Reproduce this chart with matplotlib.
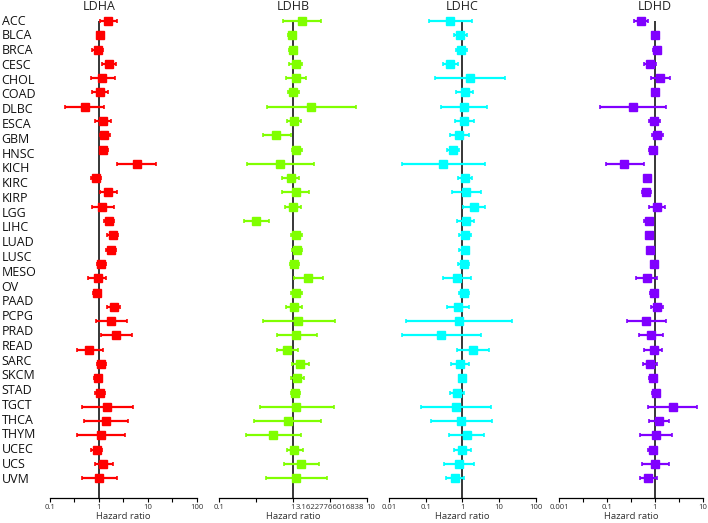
import numpy as np
import matplotlib
matplotlib.use("Agg")
import matplotlib.pyplot as plt
from matplotlib.ticker import NullLocator

plt.rcParams['font.family'] = ['Open Sans', 'DejaVu Sans']

# 33 data rows (TCGA order), 32 names printed in the label column
cancers = ["ACC", "BLCA", "BRCA", "CESC", "CHOL", "COAD", "DLBC", "ESCA", "GBM", "HNSC",
           "KICH", "KIRC", "KIRP", "LAML", "LGG", "LIHC", "LUAD", "LUSC", "MESO", "OV",
           "PAAD", "PCPG", "PRAD", "READ", "SARC", "SKCM", "STAD", "TGCT", "THCA", "THYM",
           "UCEC", "UCS", "UVM"]
labels = ["ACC", "BLCA", "BRCA", "CESC", "CHOL", "COAD", "DLBC", "ESCA", "GBM", "HNSC",
          "KICH", "KIRC", "KIRP", "LGG", "LIHC", "LUAD", "LUSC", "MESO", "OV", "PAAD",
          "PCPG", "PRAD", "READ", "SARC", "SKCM", "STAD", "TGCT", "THCA", "THYM", "UCEC",
          "UCS", "UVM"]

genes = ["LDHA", "LDHB", "LDHC", "LDHD"]
colors = ["#FF0000", "#80FF00", "#00FFFF", "#8000FF"]

ldha_lo = [1.06, 0.91, 0.72, 1.15, 0.70, 0.72, 0.205, 0.84, 1.03, 1.03, 2.33, 0.70, 1.06, 0.72, 1.30, 1.46, 1.37,
           0.91, 0.61, 0.75, 1.46, 0.87, 1.10, 0.355, 0.91, 0.81, 0.85, 0.45, 0.50, 0.365, 0.69, 0.84, 0.46]
ldha_hr = [1.57, 1.06, 0.94, 1.60, 1.18, 1.05, 0.51, 1.21, 1.30, 1.24, 5.88, 0.87, 1.55, 1.18, 1.62, 1.90, 1.76,
           1.10, 0.94, 0.91, 1.99, 1.76, 2.26, 0.64, 1.11, 0.95, 1.06, 1.46, 1.41, 1.10, 0.91, 1.24, 1.01]
ldha_hi = [2.40, 1.24, 1.24, 2.26, 2.12, 1.57, 1.30, 1.73, 1.70, 1.55, 14.9, 1.10, 2.33, 2.06, 2.03, 2.48, 2.19,
           1.41, 1.41, 1.06, 2.73, 3.74, 4.73, 1.24, 1.41, 1.15, 1.35, 4.90, 3.98, 3.45, 1.18, 1.90, 2.33]

ldhb_lo = [0.74, 0.855, 0.90, 0.90, 0.80, 0.855, 0.45, 0.84, 0.40, 0.98, 0.24, 0.72, 0.72, 0.78, 0.22, 0.95, 0.98,
           0.91, 1.03, 0.95, 0.82, 0.40, 0.61, 0.61, 0.96, 0.95, 0.93, 0.36, 0.30, 0.23, 0.84, 0.77, 0.43]
ldhb_hr = [1.31, 0.98, 1.01, 1.10, 1.09, 1.01, 1.78, 1.03, 0.60, 1.12, 0.68, 0.93, 1.12, 1.00, 0.32, 1.11, 1.15,
           1.05, 1.62, 1.12, 1.03, 1.18, 1.12, 0.84, 1.24, 1.15, 1.06, 1.12, 0.855, 0.54, 1.05, 1.30, 1.12]
ldhb_hi = [2.38, 1.12, 1.15, 1.35, 1.50, 1.22, 7.18, 1.27, 0.93, 1.31, 1.93, 1.21, 1.67, 1.30, 0.47, 1.31, 1.35,
           1.21, 2.59, 1.34, 1.31, 3.69, 2.10, 1.17, 1.65, 1.41, 1.24, 3.61, 2.38, 1.30, 1.38, 2.26, 2.93]

ldhc_lo = [0.126, 0.59, 0.66, 0.30, 0.18, 0.66, 0.26, 0.63, 0.47, 0.376, 0.023, 0.78, 0.51, 1.02, 0.73, 0.83, 0.83,
           0.78, 0.30, 0.83, 0.39, 0.029, 0.022, 0.73, 0.49, 0.83, 0.46, 0.073, 0.14, 0.44, 0.59, 0.32, 0.36]
ldhc_hr = [0.47, 0.865, 0.92, 0.47, 1.62, 1.16, 1.11, 1.13, 0.81, 0.57, 0.30, 1.18, 1.26, 2.08, 1.24, 1.21, 1.16,
           1.13, 0.73, 1.11, 0.76, 0.80, 0.26, 1.96, 0.85, 0.98, 0.72, 0.66, 0.90, 1.32, 0.98, 0.81, 0.63]
ldhc_hi = [1.80, 1.37, 1.37, 0.78, 14.6, 2.0, 4.62, 2.08, 1.52, 0.83, 4.16, 1.84, 3.17, 4.24, 2.08, 1.70, 1.55,
           1.55, 1.76, 1.49, 1.49, 22.2, 3.17, 5.34, 1.49, 1.24, 1.13, 6.05, 6.3, 3.98, 1.70, 2.08, 1.11]

ldhd_lo = [0.36, 0.85, 0.89, 0.60, 0.81, 0.85, 0.070, 0.76, 0.85, 0.76, 0.095, 0.585, 0.53, 0.75, 0.60, 0.64, 0.67,
           0.83, 0.41, 0.79, 0.83, 0.26, 0.46, 0.60, 0.55, 0.76, 0.88, 0.73, 0.76, 0.49, 0.73, 0.53, 0.48]
ldhd_hr = [0.51, 0.98, 1.08, 0.79, 1.26, 1.01, 0.34, 0.97, 1.11, 0.91, 0.23, 0.69, 0.64, 1.08, 0.74, 0.75, 0.80,
           0.97, 0.67, 0.97, 1.10, 0.65, 0.83, 0.94, 0.79, 0.89, 1.05, 2.36, 1.22, 1.05, 0.89, 1.00, 0.73]
ldhd_hi = [0.73, 1.13, 1.30, 1.03, 2.02, 1.21, 1.68, 1.30, 1.50, 1.08, 0.58, 0.81, 0.83, 1.60, 0.92, 0.88, 0.95,
           1.13, 1.08, 1.17, 1.50, 1.68, 1.50, 1.43, 1.08, 1.08, 1.24, 7.65, 1.96, 2.29, 1.11, 1.96, 1.11]

data = [(ldha_lo, ldha_hr, ldha_hi), (ldhb_lo, ldhb_hr, ldhb_hi),
        (ldhc_lo, ldhc_hr, ldhc_hi), (ldhd_lo, ldhd_hr, ldhd_hi)]

# axis ranges and tick labels as printed in the figure
xlims = [(0.1, 100), (0.1, 10), (0.01, 100), (0.01, 10)]
tick_exps = [np.arange(-1, 2.01, 0.5), np.arange(-1, 1.01, 0.5),
             np.arange(-2, 2.01, 1.0), np.arange(-2, 1.01, 0.5)]
tick_labels = [["0.1", "", "1", "", "10", "", "100"],
               ["0.1", "", "1", "3.16227766016838", "10"],
               ["0.01", "0.1", "1", "10", "100"],
               ["0.001", "", "0.1", "", "1", "", "10"]]

W, H = 708, 523
fig = plt.figure(figsize=(W / 100, H / 100), dpi=100)

lefts = [50, 219, 389, 559]
widths = [146.7, 147.7, 146.7, 144.0]
top_px, bot_px = 6.7, 498

y = np.arange(len(cancers))
ybot = 33.38

for i, g in enumerate(genes):
    ax = fig.add_axes([lefts[i] / W, 1 - bot_px / H, widths[i] / W, (bot_px - top_px) / H])
    lo, hr, hi = [np.array(a) for a in data[i]]
    ax.set_xscale('log')
    ax.vlines(1, 0, ybot, color='black', lw=1.1, zorder=1)
    ax.errorbar(hr, y, xerr=[hr - lo, hi - hr], fmt='s', color=colors[i], ms=5.2,
                elinewidth=1.6, capsize=1.6, capthick=1.2, zorder=3)
    ax.set_xlim(*xlims[i])
    ax.set_ylim(ybot, -1)
    ax.set_xticks(10 ** tick_exps[i])
    ax.set_xticklabels(tick_labels[i], fontsize=5.6, color='#333333')
    ax.xaxis.set_minor_locator(NullLocator())
    ax.tick_params(axis='x', length=3, width=0.8, pad=1.5)
    ax.set_yticks([])
    for s in ['top', 'right', 'left']:
        ax.spines[s].set_visible(False)
    ax.spines['bottom'].set_linewidth(0.9)
    ax.set_xlabel("Hazard ratio", fontsize=6.8, color='#333333', labelpad=0.5)
    ax.text(1, -1, g, ha='center', va='center', fontsize=9, color='#222222')
    if g == "LDHB":
        # long label crowds the last one; start "10" at its tick
        ax.get_xticklabels()[-1].set_horizontalalignment('left')

# label column
lab_ax = fig.add_axes([0, 1 - bot_px / H, 50 / W, (bot_px - top_px) / H])
lab_ax.set_ylim(32.265, -0.968)
lab_ax.set_xlim(0, 1)
lab_ax.axis('off')
for j, name in enumerate(labels):
    lab_ax.text(0.03, j, name, ha='left', va='center', fontsize=9, color='#111111')

fig.savefig("out.png", dpi=100)
